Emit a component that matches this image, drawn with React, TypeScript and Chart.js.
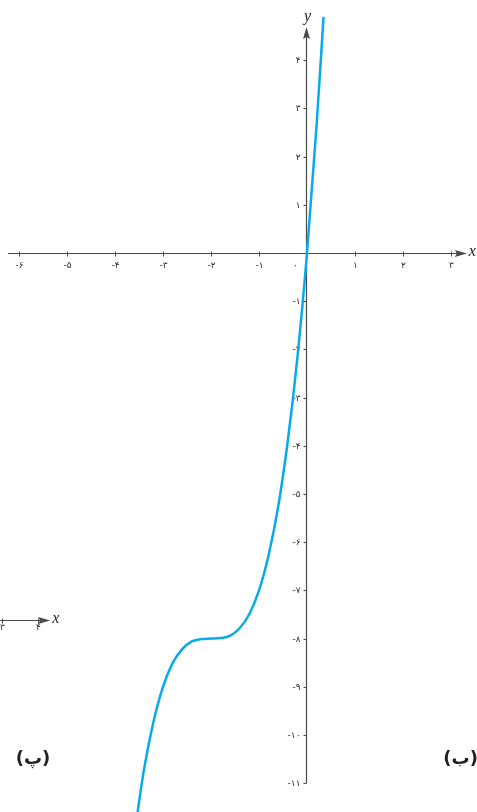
import React, { useEffect, useRef } from "react";
import { Chart, registerables } from "chart.js";

Chart.register(...registerables);

// curve samples
const curveX = [-3.6, -3.4, -3.2, -3.0, -2.8, -2.6, -2.4, -2.2, -2.0, -1.8, -1.6, -1.4, -1.2, -1.0, -0.8, -0.6, -0.4, -0.2, 0, 0.2, 0.345];
const curveY = [-12.1, -10.74, -9.73, -9.0, -8.51, -8.22, -8.06, -8.01, -8.0, -7.99, -7.94, -7.78, -7.49, -7.0, -6.27, -5.26, -3.9, -2.17, 0, 2.65, 4.9];

// ticks
const xTicks = [-6, -5, -4, -3, -2, -1, 0, 1, 2, 3];
const xTickLabels = ["-۶", "-۵", "-۴", "-۳", "-۲", "-۱", "۰", "۱", "۲", "۳"];
const yTicks = [4, 3, 2, 1, -1, -2, -3, -4, -5, -6, -7, -8, -9, -10, -11];
const yTickLabels = ["۴", "۳", "۲", "۱", "-۱", "-۲", "-۳", "-۴", "-۵", "-۶", "-۷", "-۸", "-۹", "-۱۰", "-۱۱"];

// axis extents
const xAxisRange = [-6.23, 3.33];
const yAxisRange = [-11, 4.69];

// fragment of neighbouring figure
const fragTicks = [-6.35, -5.6];
const fragTickLabels = ["۳", "۴"];
const fragLevel = -7.61;
const fragEnd = -5.35;

const panelLabels = ["(پ)", "(ب)"];

const AXIS = "#4a4a4a";
const TEXT = "#2a2a2a";
const CURVE = "#08aaea";

function arrow(ctx: CanvasRenderingContext2D, tx: number, ty: number, dir: "right" | "up") {
  ctx.beginPath();
  if (dir === "right") {
    ctx.moveTo(tx, ty);
    ctx.lineTo(tx - 12, ty - 3.5);
    ctx.lineTo(tx - 10, ty);
    ctx.lineTo(tx - 12, ty + 3.5);
  } else {
    ctx.moveTo(tx, ty);
    ctx.lineTo(tx - 3.5, ty + 12);
    ctx.lineTo(tx, ty + 10);
    ctx.lineTo(tx + 3.5, ty + 12);
  }
  ctx.closePath();
  ctx.fill();
}

const axesPlugin = {
  id: "customAxes",
  beforeDatasetsDraw(chart: any) {
    const { ctx } = chart;
    const sx = chart.scales.x;
    const sy = chart.scales.y;
    const px = (v: number) => sx.getPixelForValue(v);
    const py = (v: number) => sy.getPixelForValue(v);
    ctx.save();
    ctx.strokeStyle = AXIS;
    ctx.fillStyle = AXIS;
    ctx.lineWidth = 1.2;

    // x axis
    const y0 = Math.round(py(0)) + 0.5;
    const xEnd = px(xAxisRange[1]);
    ctx.beginPath();
    ctx.moveTo(px(xAxisRange[0]), y0);
    ctx.lineTo(xEnd - 8, y0);
    ctx.stroke();
    arrow(ctx, xEnd, y0, "right");

    // y axis
    const x0 = Math.round(px(0)) - 0.5;
    const yEnd = py(yAxisRange[1]);
    ctx.beginPath();
    ctx.moveTo(x0, py(yAxisRange[0]));
    ctx.lineTo(x0, yEnd + 8);
    ctx.stroke();
    arrow(ctx, x0, yEnd, "up");

    ctx.lineWidth = 1;
    // x ticks
    ctx.font = "9px 'DejaVu Sans'";
    ctx.textAlign = "center";
    ctx.textBaseline = "middle";
    xTicks.forEach((v, i) => {
      const xx = Math.round(px(v)) + 0.5;
      if (v !== 0) {
        ctx.beginPath();
        ctx.moveTo(xx, y0 - 2);
        ctx.lineTo(xx, y0 + 3);
        ctx.stroke();
        ctx.fillStyle = TEXT;
        ctx.fillText(xTickLabels[i], xx, y0 + 12);
      } else {
        ctx.fillStyle = TEXT;
        ctx.fillText(xTickLabels[i], xx - 12, y0 + 12);
      }
    });

    // y ticks
    ctx.textAlign = "right";
    yTicks.forEach((v, i) => {
      const yy = Math.round(py(v)) + 0.5;
      ctx.beginPath();
      ctx.moveTo(x0 - 3, yy);
      ctx.lineTo(x0, yy);
      ctx.stroke();
      ctx.fillStyle = TEXT;
      ctx.fillText(yTickLabels[i], x0 - 6, yy);
    });

    // axis names
    ctx.fillStyle = "#222";
    ctx.font = "italic 16px 'Liberation Serif'";
    ctx.textAlign = "left";
    ctx.textBaseline = "alphabetic";
    ctx.fillText("x", xEnd + 2, y0 + 2);
    ctx.textAlign = "center";
    ctx.fillText("y", x0 + 1, yEnd - 6);

    // neighbouring figure fragment
    ctx.strokeStyle = AXIS;
    ctx.fillStyle = AXIS;
    ctx.lineWidth = 1.2;
    const fy = Math.round(py(fragLevel)) + 0.5;
    const fEnd = px(fragEnd);
    ctx.beginPath();
    ctx.moveTo(0, fy);
    ctx.lineTo(fEnd - 8, fy);
    ctx.stroke();
    arrow(ctx, fEnd, fy, "right");
    ctx.lineWidth = 1;
    ctx.font = "9px 'DejaVu Sans'";
    ctx.textBaseline = "middle";
    fragTicks.forEach((v, i) => {
      const xx = Math.round(px(v)) + 0.5;
      ctx.beginPath();
      ctx.moveTo(xx, fy - 2);
      ctx.lineTo(xx, fy + 3);
      ctx.stroke();
      ctx.fillStyle = TEXT;
      ctx.textAlign = "center";
      ctx.fillText(fragTickLabels[i], xx, fy + 7);
    });
    ctx.fillStyle = "#222";
    ctx.font = "italic 16px 'Liberation Serif'";
    ctx.textAlign = "left";
    ctx.textBaseline = "alphabetic";
    ctx.fillText("x", fEnd + 2, fy + 2);

    // panel labels
    ctx.font = "bold 18px 'DejaVu Sans'";
    ctx.fillStyle = "#222";
    ctx.textAlign = "center";
    ctx.textBaseline = "middle";
    ctx.fillText(panelLabels[0], px(-5.71), py(-10.5));
    ctx.fillText(panelLabels[1], px(3.2), py(-10.5));

    ctx.restore();
  },
};

export default function App() {
  const ref = useRef<HTMLCanvasElement | null>(null);
  useEffect(() => {
    if (!ref.current) return;
    const chart = new Chart(ref.current, {
      type: "scatter",
      data: {
        datasets: [
          {
            data: curveX.map((x, i) => ({ x, y: curveY[i] })),
            showLine: true,
            borderColor: CURVE,
            borderWidth: 2.5,
            pointRadius: 0,
            cubicInterpolationMode: "monotone",
            fill: false,
          },
        ],
      },
      options: {
        responsive: false,
        animation: false,
        layout: { padding: 0 },
        plugins: { legend: { display: false }, tooltip: { enabled: false } },
        scales: {
          x: { type: "linear", min: -6.396, max: 3.542, display: false },
          y: { type: "linear", min: -11.598, max: 5.249, display: false },
        },
      },
      plugins: [axesPlugin],
    } as any);
    return () => chart.destroy();
  }, []);
  return (
    <div style={{ position: "absolute", left: 0, top: 0, width: 477, height: 812, background: "#fff" }}>
      <canvas ref={ref} width={477} height={812} style={{ display: "block" }} />
    </div>
  );
}
